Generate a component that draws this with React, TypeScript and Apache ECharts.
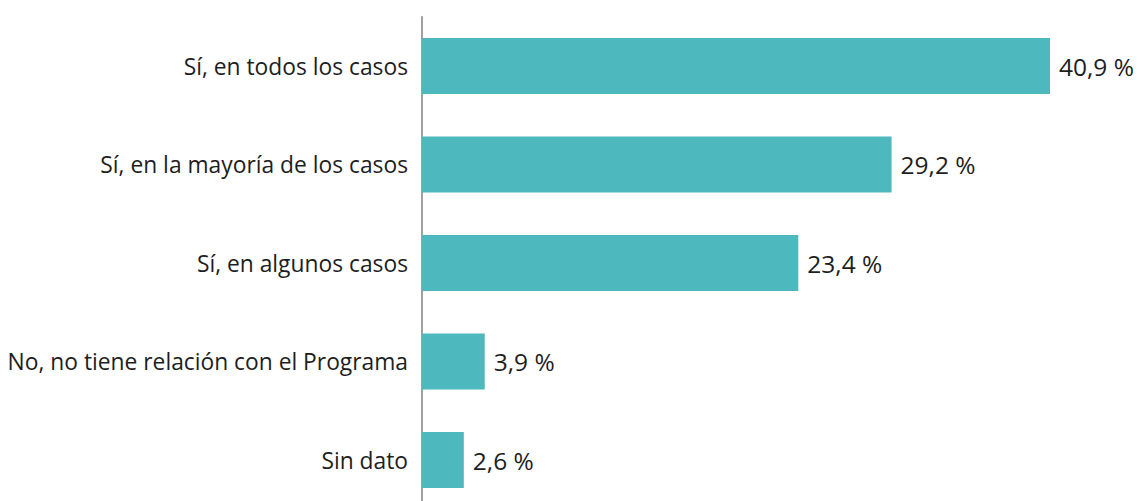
import React, { useEffect, useRef } from "react";
import * as echarts from "echarts";

const categories = [
  "Sí, en todos los casos",
  "Sí, en la mayoría de los casos",
  "Sí, en algunos casos",
  "No, no tiene relación con el Programa",
  "Sin dato",
];
const values = [40.9, 29.2, 23.4, 3.9, 2.6];

export default function App() {
  const ref = useRef<HTMLDivElement>(null);
  useEffect(() => {
    if (!ref.current) return;
    const chart = echarts.init(ref.current, undefined, { renderer: "svg" });
    chart.setOption({
      animation: false,
      textStyle: { fontFamily: "Open Sans" },
      grid: { left: 422, top: 16.75, width: 628, height: 492.5, containLabel: false },
      xAxis: { type: "value", min: 0, max: 39.05, show: false, splitLine: { show: false } },
      yAxis: {
        type: "category",
        data: categories,
        inverse: true,
        axisTick: { show: false },
        axisLine: { show: true, lineStyle: { color: "#808080", width: 1.5 } },
        axisLabel: { color: "#1e1e1e", fontSize: 22.8, margin: 14, fontFamily: "Open Sans" },
      },
      series: [
        {
          type: "bar",
          data: values,
          barWidth: 56,
          clip: true,
          itemStyle: { color: "#4db8bd" },
          label: {
            show: true,
            position: "right",
            distance: 9,
            color: "#1e1e1e",
            fontSize: 24.5,
            fontFamily: "Open Sans",
            formatter: (p: any) => String(p.value).replace(".", ",") + " %",
          },
        },
      ],
    });
    return () => chart.dispose();
  }, []);
  return (
    <div
      ref={ref}
      style={{ position: "fixed", left: 0, top: 0, width: 1140, height: 520, background: "#fff" }}
    />
  );
}
